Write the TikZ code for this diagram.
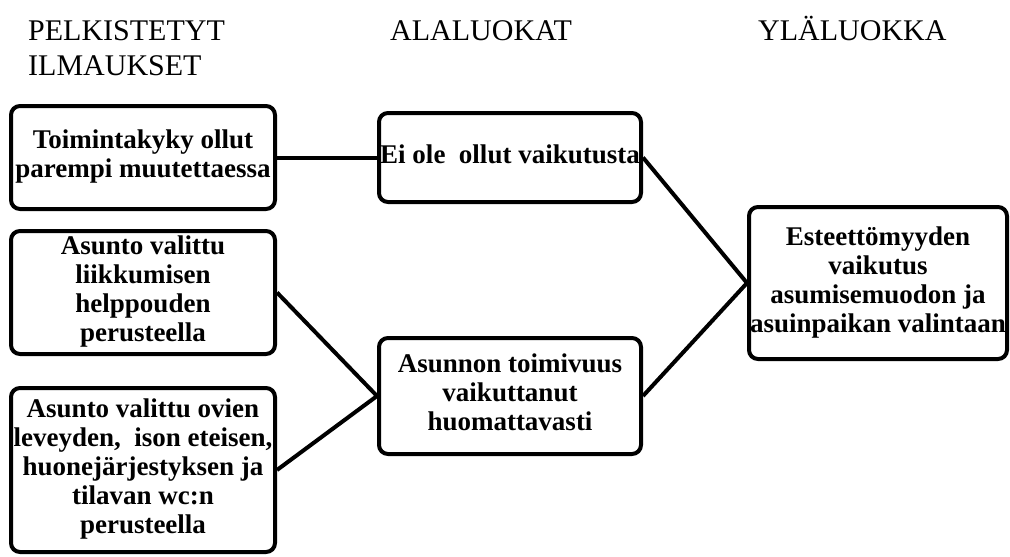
\documentclass[tikz,border=0pt]{standalone}
\usepackage{fontspec}
\newfontfamily\tnr{Liberation Serif}
% centred multi-line label without TikZ's align machinery
\newcommand\lines[1]{\begin{tabular}{@{}c@{}}#1\end{tabular}}
\begin{document}
\begin{tikzpicture}[x=1pt,y=-1pt,
  box/.style={draw, line width=4pt, rounded corners=9pt,
    font=\tnr\bfseries\fontsize{27}{29}\selectfont, inner sep=0pt},
  link/.style={line width=4pt},
  head/.style={font=\tnr\fontsize{30}{35}\selectfont, inner sep=0pt}]
\useasboundingbox (0,0) rectangle (1010,557);

% column headings
\node[head, anchor=north west] (hA) at (28,15.5)
  {\begin{tabular}{@{}l@{}}PELKISTETYT\\ILMAUKSET\end{tabular}};
\node[head, anchor=base west] (hB) at (390,40) {ALALUOKAT};
\node[head, anchor=base west] (hC) at (758,40) {YLÄLUOKKA};

% reduced expressions
\node[box, minimum width=264pt, minimum height=103pt] (b1) at (143,157.5)
  {\lines{Toimintakyky ollut\\parempi muutettaessa}};
\node[box, minimum width=264pt, minimum height=123pt] (b2) at (143,292.5)
  {\lines{Asunto valittu\\liikkumisen\\helppouden\\perusteella}};
\node[box, minimum width=264pt, minimum height=164pt] (b3) at (143,470)
  {\lines{Asunto valittu ovien\\leveyden,~~ison eteisen,\\huonejärjestyksen ja\\tilavan wc:n\\perusteella}};

% subcategories
\node[box, minimum width=262pt, minimum height=89pt] (b4) at (510,157.5)
  {\lines{Ei ole~~ollut vaikutusta}};
\node[box, minimum width=262pt, minimum height=116pt] (b5) at (510,396)
  {\lines{Asunnon toimivuus\\vaikuttanut\\huomattavasti}};

% main category
\node[box, minimum width=258pt, minimum height=152pt] (b6) at (878,283)
  {\lines{Esteettömyyden\\vaikutus\\asumisemuodon ja\\asuinpaikan valintaan}};

% connectors
\draw[link] (b1.east) -- (b4.west);
\draw[link] (b2.east) -- (b5.west);
\draw[link] (b3.east) -- (b5.west);
\draw[link] (b4.east) -- (b6.west);
\draw[link] (b5.east) -- (b6.west);
\end{tikzpicture}
\end{document}
